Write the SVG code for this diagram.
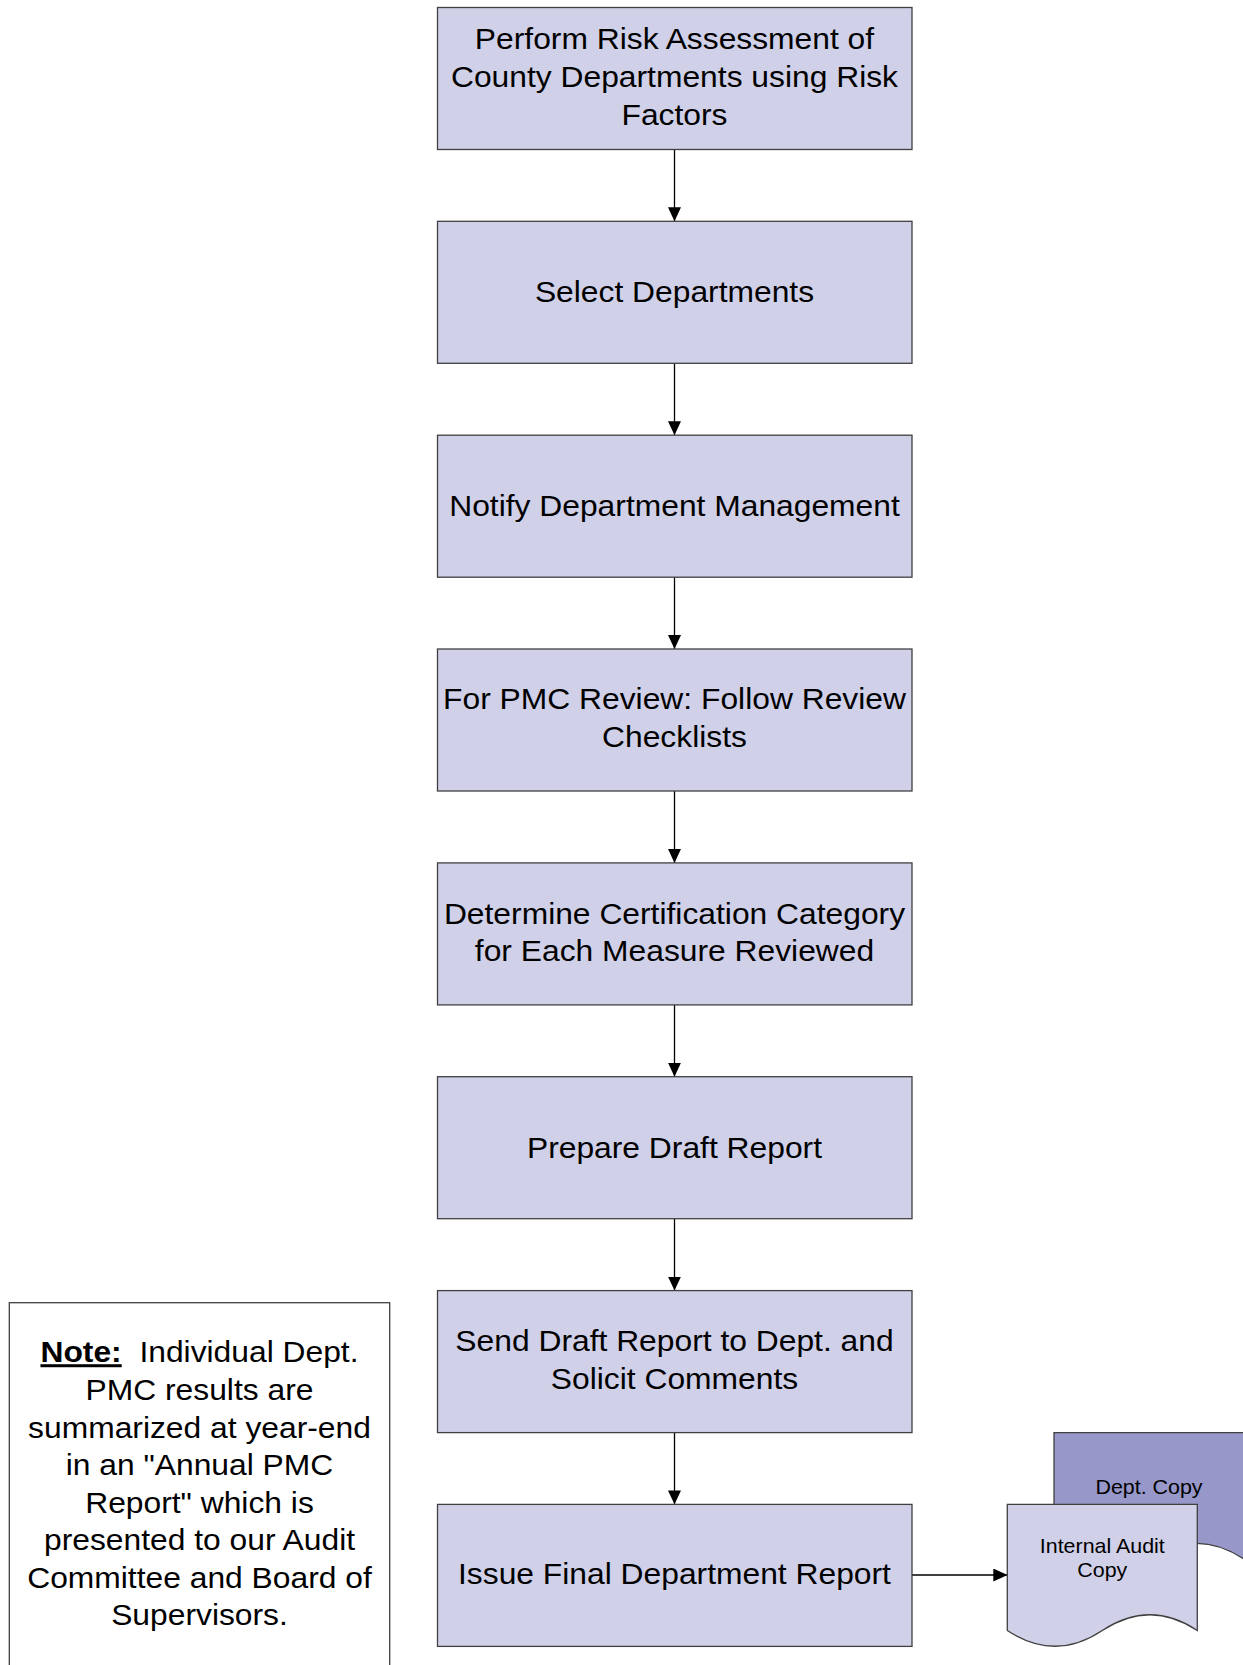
<svg xmlns="http://www.w3.org/2000/svg" width="1243" height="1665" viewBox="0 0 1243 1665">
<style>
.box{fill:#d0d0e8;stroke:#404040;stroke-width:1.3}
.t{font-family:"Liberation Sans",Arial,sans-serif;font-size:30px;fill:#000;text-anchor:middle}
.s{font-family:"Liberation Sans",Arial,sans-serif;font-size:20.5px;fill:#000;text-anchor:middle}
.c{stroke:#000;stroke-width:1.3;fill:none}
.doc{stroke:#404040;stroke-width:1.3}
</style>
<defs>
<marker id="ah" markerWidth="14" markerHeight="13" refX="14" refY="6.5" orient="auto" markerUnits="userSpaceOnUse">
<path d="M0,0 L14,6.5 L0,13 Z" fill="#000"/>
</marker>
</defs>
<g id="connectors">
<line class="c" x1="674.5" y1="149.5" x2="674.5" y2="221.3" marker-end="url(#ah)"/>
<line class="c" x1="674.5" y1="363.3" x2="674.5" y2="435.2" marker-end="url(#ah)"/>
<line class="c" x1="674.5" y1="577.2" x2="674.5" y2="649" marker-end="url(#ah)"/>
<line class="c" x1="674.5" y1="791" x2="674.5" y2="862.9" marker-end="url(#ah)"/>
<line class="c" x1="674.5" y1="1004.9" x2="674.5" y2="1076.7" marker-end="url(#ah)"/>
<line class="c" x1="674.5" y1="1218.7" x2="674.5" y2="1290.6" marker-end="url(#ah)"/>
<line class="c" x1="674.5" y1="1432.6" x2="674.5" y2="1504.4" marker-end="url(#ah)"/>
<line class="c" x1="912" y1="1575" x2="1007.3" y2="1575" marker-end="url(#ah)"/>
</g>
<g id="n1">
<rect class="box" x="437.5" y="7.5" width="474.5" height="142"/>
<g transform="matrix(1.06 0 0 1 -40.47 0)">
<text class="t" x="674.5" y="49.3">Perform Risk Assessment of</text>
<text class="t" x="674.5" y="87.3">County Departments using Risk</text>
<text class="t" x="674.5" y="125.3">Factors</text>
</g>
</g>
<g id="n2">
<rect class="box" x="437.5" y="221.3" width="474.5" height="142"/>
<text class="t" x="674.5" y="302" transform="matrix(1.06 0 0 1 -40.47 0)">Select Departments</text>
</g>
<g id="n3">
<rect class="box" x="437.5" y="435.2" width="474.5" height="142"/>
<text class="t" x="674.5" y="516" transform="matrix(1.06 0 0 1 -40.47 0)">Notify Department Management</text>
</g>
<g id="n4">
<rect class="box" x="437.5" y="649" width="474.5" height="142"/>
<g transform="matrix(1.06 0 0 1 -40.47 0)">
<text class="t" x="674.5" y="709.5">For PMC Review: Follow Review</text>
<text class="t" x="674.5" y="747.5">Checklists</text>
</g>
</g>
<g id="n5">
<rect class="box" x="437.5" y="862.9" width="474.5" height="142"/>
<g transform="matrix(1.06 0 0 1 -40.47 0)">
<text class="t" x="674.5" y="924">Determine Certification Category</text>
<text class="t" x="674.5" y="961">for Each Measure Reviewed</text>
</g>
</g>
<g id="n6">
<rect class="box" x="437.5" y="1076.7" width="474.5" height="142"/>
<text class="t" x="674.5" y="1158" transform="matrix(1.06 0 0 1 -40.47 0)">Prepare Draft Report</text>
</g>
<g id="n7">
<rect class="box" x="437.5" y="1290.6" width="474.5" height="142"/>
<g transform="matrix(1.06 0 0 1 -40.47 0)">
<text class="t" x="674.5" y="1351.5">Send Draft Report to Dept. and</text>
<text class="t" x="674.5" y="1389">Solicit Comments</text>
</g>
</g>
<g id="n8">
<rect class="box" x="437.5" y="1504.4" width="474.5" height="142"/>
<text class="t" x="674.5" y="1584.5" transform="matrix(1.06 0 0 1 -40.47 0)">Issue Final Department Report</text>
</g>
<g id="dept-copy">
<path class="doc" fill="#9797c9" d="M1054,1432.7 L1244,1432.7 L1244,1559.2 Q1196.7,1527.7 1149,1559.2 Q1101.7,1590.7 1054,1559.2 Z"/>
<text class="s" x="1149" y="1494" transform="matrix(1.045 0 0 1 -51.7 0)">Dept. Copy</text>
</g>
<g id="internal-audit-copy">
<path class="doc" fill="#d0d0e8" d="M1007.3,1504.4 L1197.3,1504.4 L1197.3,1630.5 Q1150,1599 1102.3,1630.5 Q1055,1662 1007.3,1630.5 Z"/>
<g transform="matrix(1.045 0 0 1 -49.6 0)">
<text class="s" x="1102.3" y="1552.7">Internal Audit</text>
<text class="s" x="1102.3" y="1577.3">Copy</text>
</g>
</g>
<g id="note">
<rect x="9.3" y="1302.7" width="380.4" height="380" fill="#fff" stroke="#404040" stroke-width="1.3"/>
<g transform="matrix(1.06 0 0 1 -11.97 0)">
<text class="t" x="199.5" y="1362.3"><tspan font-weight="bold" text-decoration="underline">Note:</tspan>&#160; Individual Dept.</text>
<text class="t" x="199.5" y="1400">PMC results are</text>
<text class="t" x="199.5" y="1437.7">summarized at year-end</text>
<text class="t" x="199.5" y="1475.3">in an "Annual PMC</text>
<text class="t" x="199.5" y="1512.8">Report" which is</text>
<text class="t" x="199.5" y="1550.3">presented to our Audit</text>
<text class="t" x="199.5" y="1587.8">Committee and Board of</text>
<text class="t" x="199.5" y="1625.3">Supervisors.</text>
</g>
</g>
</svg>
